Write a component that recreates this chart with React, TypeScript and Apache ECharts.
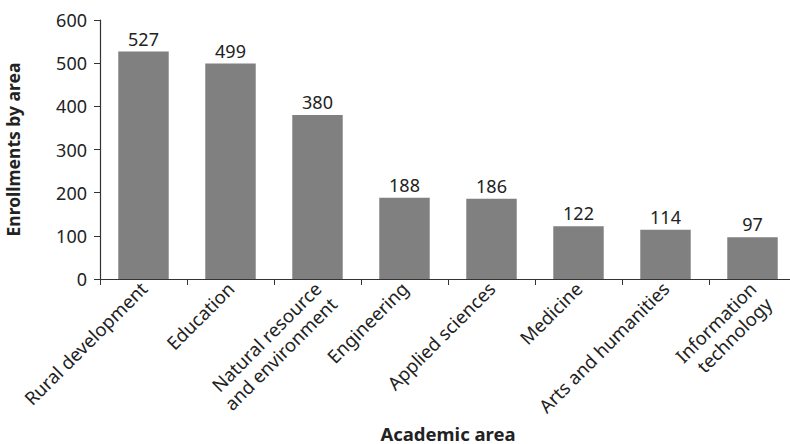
import React, { useEffect, useRef } from "react";
import * as echarts from "echarts";

const categories = [
  "Rural development",
  "Education",
  "Natural resource\nand environment",
  "Engineering",
  "Applied sciences",
  "Medicine",
  "Arts and humanities",
  "Information\ntechnology",
];
const enrollments = [527, 499, 380, 188, 186, 122, 114, 97];
const yTicks = { min: 0, max: 600, interval: 100 };

const FONT = "'Noto Sans', sans-serif";

export default function App() {
  const ref = useRef<HTMLDivElement>(null);
  useEffect(() => {
    if (!ref.current) return;
    const chart = echarts.init(ref.current, null, { renderer: "svg" });
    chart.setOption({
      animation: false,
      backgroundColor: "#ffffff",
      grid: {
        left: 100,
        top: 20,
        width: 696,
        height: 259,
        containLabel: false,
        outerBoundsMode: "none",
      },
      xAxis: {
        type: "category",
        data: categories,
        name: "Academic area",
        nameLocation: "middle",
        nameGap: 135,
        nameTextStyle: {
          fontFamily: FONT,
          fontSize: 18.5,
          fontWeight: "bold",
          color: "#222",
          lineHeight: 18,
        },
        axisLine: { lineStyle: { color: "#333", width: 1.2 } },
        axisTick: { show: true, length: 6, lineStyle: { color: "#333" } },
        axisLabel: {
          rotate: 45,
          interval: 0,
          fontFamily: FONT,
          fontSize: 18.5,
          color: "#222",
          margin: 6,
          lineHeight: 22,
          formatter: (v: string) => (v.includes("\n") ? "\n" + v : v),
        },
      },
      yAxis: {
        type: "value",
        min: yTicks.min,
        max: yTicks.max,
        interval: yTicks.interval,
        name: "Enrollments by area",
        nameLocation: "middle",
        nameGap: 78,
        nameTextStyle: { fontFamily: FONT, fontSize: 17.5, fontWeight: "bold", color: "#222" },
        axisLine: { show: true, lineStyle: { color: "#333", width: 1.2 } },
        axisTick: { show: true, length: 6, lineStyle: { color: "#333" } },
        splitLine: { show: false },
        axisLabel: { fontFamily: FONT, fontSize: 18, color: "#222", margin: 13 },
      },
      series: [
        {
          type: "bar",
          data: enrollments,
          barWidth: "58%",
          itemStyle: { color: "#808080" },
          label: {
            show: true,
            position: "top",
            distance: 4,
            fontFamily: FONT,
            fontSize: 18,
            color: "#222",
          },
        },
      ],
    });
    return () => chart.dispose();
  }, []);
  return (
    <div
      ref={ref}
      style={{ position: "absolute", left: 0, top: 0, width: 790, height: 444 }}
    />
  );
}
